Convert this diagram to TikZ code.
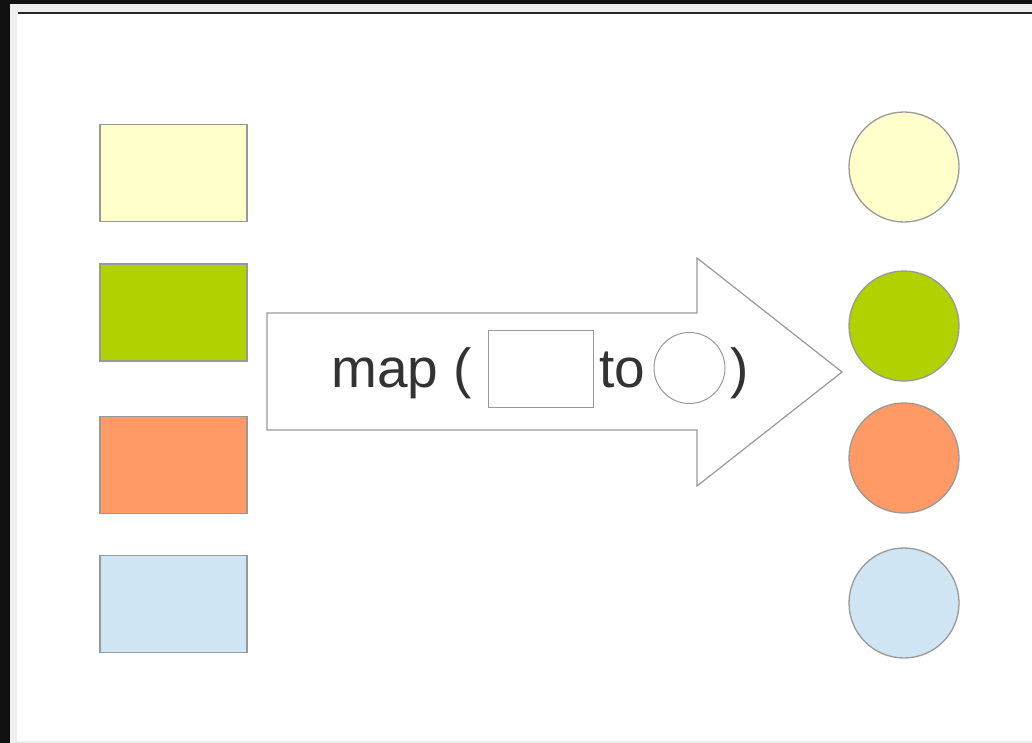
\documentclass[tikz,border=0pt]{standalone}
\usepackage{fontspec}
\setmainfont{Liberation Sans}
\definecolor{cyellow}{HTML}{FFFFCC}
\definecolor{cgreen}{HTML}{B2D100}
\definecolor{corange}{HTML}{FF9966}
\definecolor{cblue}{HTML}{D0E5F3}
\definecolor{edge}{HTML}{999999}
\definecolor{txt}{HTML}{333333}
\definecolor{frame}{HTML}{111111}
\definecolor{pane}{HTML}{EEEEEE}
\tikzset{
  shapeline/.style={draw=edge, line width=1.3pt},
  box/.style={shapeline, rectangle, minimum width=147pt, minimum height=97pt, inner sep=0pt},
  dot/.style={shapeline, circle, minimum size=110pt, inner sep=0pt},
  lbl/.style={text=txt, font=\fontsize{55}{62}\selectfont, inner sep=0pt, anchor=base west},
  smallshape/.style={draw=edge, line width=1pt, fill=white, inner sep=0pt}
}
\begin{document}
\begin{tikzpicture}[x=1pt,y=-1pt]
\useasboundingbox (0,0) rectangle (1032,743);
% window frame
\fill[frame] (0,0) rectangle (1032,743);
\fill[pane] (10,4) rectangle (1032,743);
\fill[white] (17,12) rectangle (1032,741);
\fill[black!85] (18,12) rectangle (1032,14);
% rectangles
\node[box, fill=cyellow] (r1) at (173.5,173) {};
\node[box, fill=cgreen] (r2) at (173.5,312.5) {};
\node[box, fill=corange] (r3) at (173.5,465) {};
\node[box, fill=cblue] (r4) at (173.5,604) {};
% circles
\node[dot, fill=cyellow] (c1) at (904,167) {};
\node[dot, fill=cgreen] (c2) at (904,326) {};
\node[dot, fill=corange] (c3) at (904,458) {};
\node[dot, fill=cblue] (c4) at (904,603) {};
% big arrow
\draw[draw=edge, line width=1.2pt, fill=white, line join=miter]
  (267,313) -- (697,313) -- (697,258) -- (842,372) -- (697,486) -- (697,430) -- (267,430) -- cycle;
% label
\node[lbl] (tmap) at (331,387) {map (};
\node[smallshape, rectangle, minimum width=105pt, minimum height=77pt] (ibox) at (540.5,368.5) {};
\node[lbl] (tto) at (599,387) {to};
\node[smallshape, circle, minimum size=71pt] (icirc) at (689.5,368) {};
\node[lbl] (tclose) at (730,387) {)};
\end{tikzpicture}
\end{document}
